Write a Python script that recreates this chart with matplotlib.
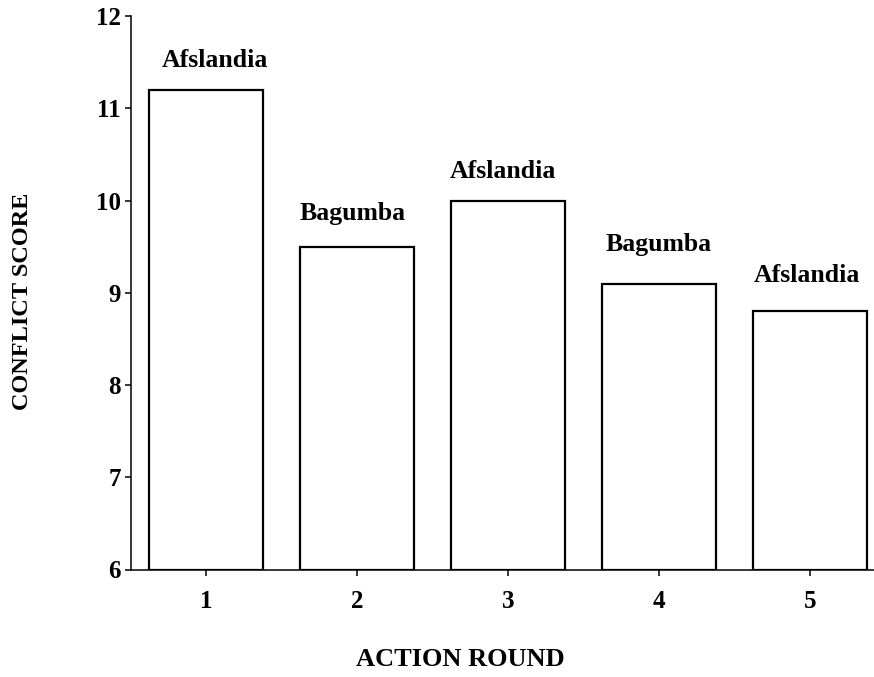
import matplotlib
matplotlib.use("Agg")
import matplotlib.pyplot as plt

rounds = [1, 2, 3, 4, 5]
scores = [11.2, 9.5, 10.0, 9.1, 8.8]
actors = ["Afslandia", "Bagumba", "Afslandia", "Bagumba", "Afslandia"]
yticks = [6, 7, 8, 9, 10, 11, 12]

# small manual nudges of the bar labels (points)
label_dx = [6.5, -3, -4, 0, -2]
label_dy = [21, 24, 21, 28, 26]

plt.rcParams['font.family'] = ['Liberation Serif', 'DejaVu Serif']
plt.rcParams['font.weight'] = 'bold'

fig = plt.figure(figsize=(8.74, 6.77), dpi=100)
ax = fig.add_axes([130.5 / 874, 1 - 569.5 / 677, 755 / 874, (569.5 - 16) / 677])

ax.bar(rounds, [s - 6 for s in scores], bottom=6, width=0.75,
       color='white', edgecolor='black', linewidth=1.6, zorder=3)

for r, s, a, dx, dy in zip(rounds, scores, actors, label_dx, label_dy):
    ax.annotate(a, xy=(r, s), xytext=(dx, dy), textcoords='offset points',
                ha='center', va='center', fontsize=18.5, fontweight='bold')

ax.set_xlim(0.5, 5.5)
ax.set_ylim(6, 12)
ax.set_xticks(rounds)
ax.set_xticklabels([str(r) for r in rounds], fontsize=18, fontweight='bold')
ax.set_yticks(yticks)
ax.set_yticklabels([str(t) for t in yticks], fontsize=18, fontweight='bold')

for side in ['top', 'right']:
    ax.spines[side].set_visible(False)
for side in ['left', 'bottom']:
    ax.spines[side].set_linewidth(1.1)
    ax.spines[side].set_zorder(4)

ax.tick_params(axis='y', direction='out', length=4, width=1.1, pad=3)
ax.tick_params(axis='x', direction='out', length=4, width=1.1, pad=11)

fig.text(23 / 874, 1 - 301 / 677, "CONFLICT SCORE", rotation=90, ha='center', va='center',
         fontsize=17.5, fontweight='bold')
fig.text(460 / 874, 1 - 660 / 677, "ACTION ROUND", ha='center', va='center',
         fontsize=19, fontweight='bold')

fig.savefig("out.png", dpi=100)
